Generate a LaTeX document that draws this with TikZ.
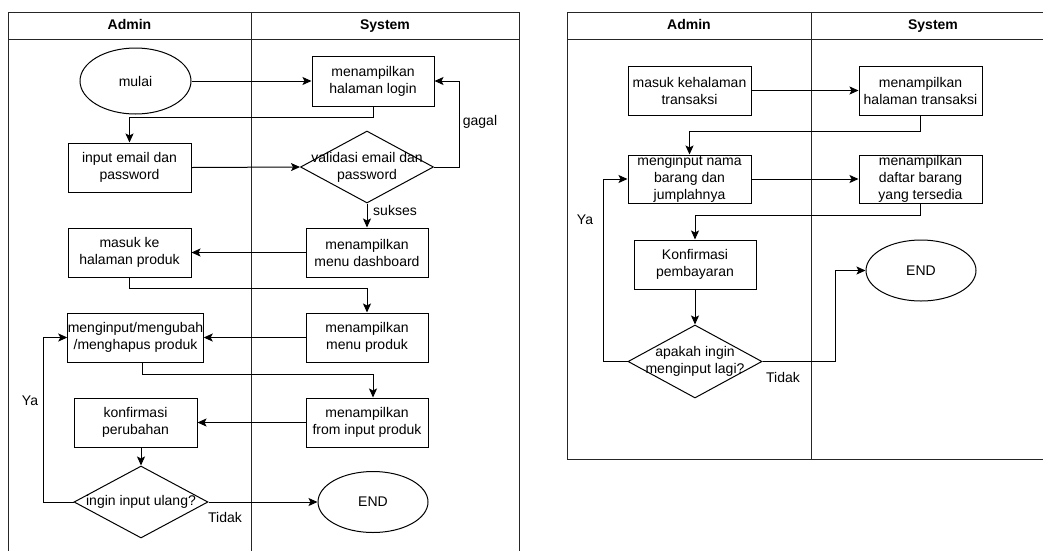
\documentclass[tikz,border=0pt]{standalone}
\usepackage{fontspec}
\setmainfont{Liberation Sans}
\usetikzlibrary{arrows.meta,shapes.geometric}
\tikzset{
  lane/.style={draw=black!85, line width=1pt},
  lanehead/.style={font=\fontsize{14}{17}\selectfont\bfseries, inner sep=0pt,
    text height=10pt, text depth=3pt},
  proc/.style={draw, line width=1pt, rectangle, minimum width=#1, minimum height=49pt,
    inner sep=0pt, align=center, font=\fontsize{14}{17}\selectfont},
  proc/.default=123pt,
  term/.style={draw, line width=1pt, ellipse, minimum width=110pt, minimum height=61pt,
    inner sep=0pt, align=center, font=\fontsize{14}{17}\selectfont},
  decision/.style={draw, line width=1pt, diamond, minimum width=134pt, minimum height=72pt,
    inner sep=0pt},
  txt/.style={inner sep=0pt, align=center, font=\fontsize{14}{17}\selectfont},
  flow/.style={draw, line width=1pt, -{Stealth[length=9pt,width=8pt,inset=2pt]}},
}
\begin{document}
\begin{tikzpicture}[x=1pt,y=-1pt]
\useasboundingbox (0,0) rectangle (1043,550);
\clip (0,0) rectangle (1043,550);

% ---------- login and product management ----------
\draw[lane] (8,12) rectangle (519,575);
\draw[lane] (8,39) -- (519,39);
\draw[lane] (251,12) -- (251,575);
\node[lanehead] (hA1) at (129.5,26) {Admin};
\node[lanehead] (hS1) at (385,26) {System};

\node[term, minimum width=111pt, minimum height=66pt] (mulai) at (135.5,81) {mulai};
\node[proc=122pt, minimum height=50pt] (login) at (373,81) {menampilkan\\halaman login};
\node[proc] (input) at (129.5,167.5) {input email dan\\password};
\node[decision, minimum width=133pt] (valid) at (367,167) {};
\node[txt] (validt) at (367,167) {validasi email dan\\password};
\node[proc] (masuk) at (129.5,252.5) {masuk ke\\halaman produk};
\node[proc=122pt] (dash) at (367,252.5) {menampilkan\\menu dashboard};
\node[proc=135pt] (edit) at (135.5,337.5) {menginput/mengubah\\/menghapus produk};
\node[proc=122pt] (menu) at (367,337.5) {menampilkan\\menu produk};
\node[proc] (konf) at (135.5,422.5) {konfirmasi\\perubahan};
\node[proc=122pt] (form) at (367,422.5) {menampilkan\\from input produk};
\node[decision] (ulang) at (141,502) {};
\node[txt] (ulangt) at (141,502) {ingin input ulang?};
\node[term] (end1) at (373,502) {END};

\node[txt] (gagal) at (480,122) {gagal};
\node[txt] (sukses) at (395,210) {sukses};
\node[txt] (ya1) at (30,401) {Ya};
\node[txt] (tidak1) at (225,517) {Tidak};

\draw[flow] (mulai.east) -- (login.west);
\draw[flow] (login.south) -- ++(0,11) -| (input.north);
\draw[flow] (input.east) -- (valid.west);
\draw[flow] (valid.east) -- ++(25,0) |- (login.east);
\draw[flow] (valid.south) -- (dash.north);
\draw[flow] (dash.west) -- (masuk.east);
\draw[flow] (masuk.south) -- ++(0,11) -| (menu.north);
\draw[flow] (menu.west) -- (edit.east);
\draw[flow] ([xshift=6.5pt]edit.south) -- ++(0,12) -| ([xshift=6pt]form.north);
\draw[flow] (form.west) -- (konf.east);
\draw[flow] (konf.south -| ulang.north) -- (ulang.north);
\draw[flow] (ulang.east) -- (end1.west);
\draw[flow] (ulang.west) -- ++(-30,0) |- (edit.west);

% ---------- transactions ----------
\draw[lane] (567,12) rectangle (1060,459);
\draw[lane] (567,39) -- (1060,39);
\draw[lane] (811,12) -- (811,459);
\node[lanehead] (hA2) at (689,26) {Admin};
\node[lanehead] (hS2) at (933,26) {System};

\node[proc] (trans) at (689.5,90.5) {masuk kehalaman\\transaksi};
\node[proc] (htrans) at (920.5,90.5) {menampilkan\\halaman transaksi};
\node[proc, minimum height=48pt] (nama) at (689.5,179) {menginput nama\\barang dan\\jumplahnya};
\node[proc, minimum height=48pt] (daftar) at (920.5,179) {menampilkan\\daftar barang\\yang tersedia};
\node[proc=122pt] (bayar) at (695,264.5) {Konfirmasi\\pembayaran};
\node[decision, minimum height=73pt] (lagi) at (695,361.5) {};
\node[txt] (lagit) at (695,361.5) {apakah ingin\\menginput lagi?};
\node[term] (end2) at (921,270.5) {END};

\node[txt] (ya2) at (585,220) {Ya};
\node[txt] (tidak2) at (783,377) {Tidak};

\draw[flow] (trans.east) -- (htrans.west);
\draw[flow] (htrans.south) -- ++(0,16) -| (nama.north);
\draw[flow] (nama.east) -- (daftar.west);
\draw[flow] (daftar.south) -- ++(0,12) -| (bayar.north);
\draw[flow] (bayar.south) -- (lagi.north);
\draw[flow] (lagi.east) -- ++(73,0) |- (end2.west);
\draw[flow] (lagi.west) -- ++(-24,0) |- (nama.west);
\end{tikzpicture}
\end{document}
